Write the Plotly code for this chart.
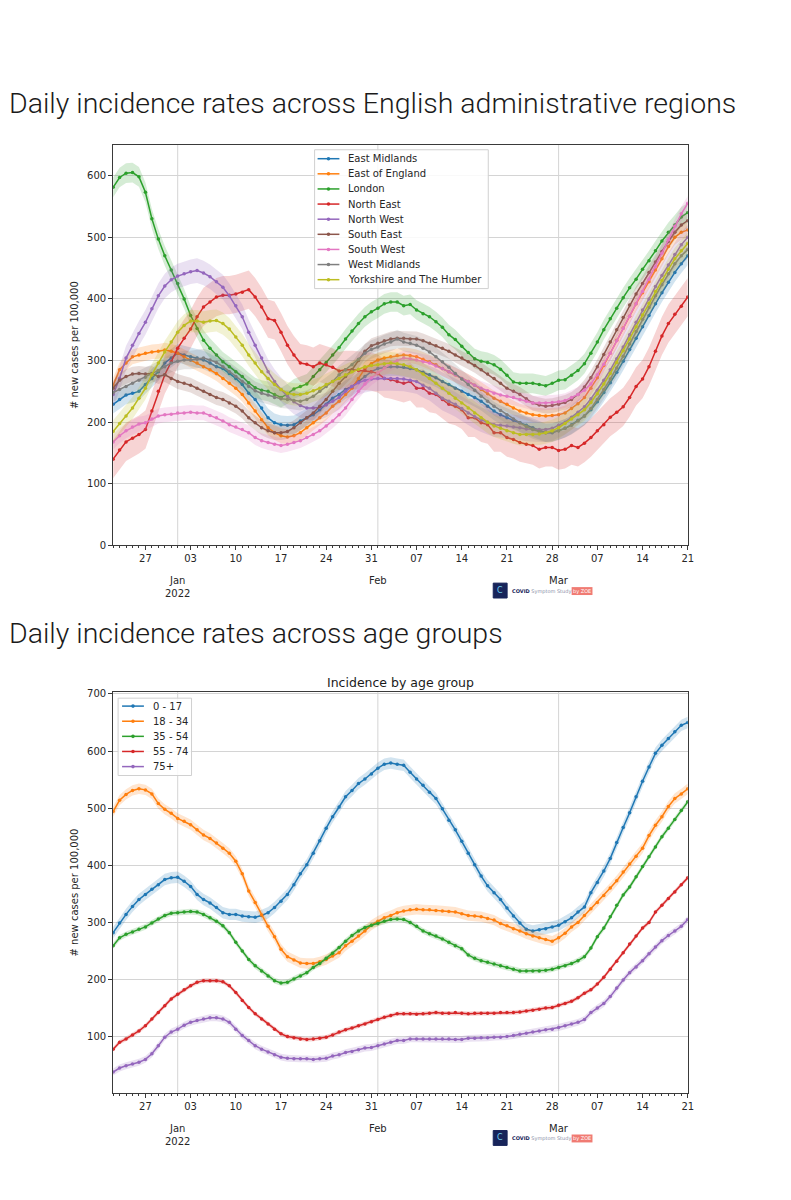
import pandas as pd
import plotly.graph_objects as go

W, H = 791, 1200

# ---------------- data ----------------
dates = pd.date_range("2021-12-22", "2022-03-21", freq="D")

week_ticks = ["2021-12-27", "2022-01-03", "2022-01-10", "2022-01-17", "2022-01-24",
              "2022-01-31", "2022-02-07", "2022-02-14", "2022-02-21", "2022-02-28",
              "2022-03-07", "2022-03-14", "2022-03-21"]
week_labels = ["27", "03", "10", "17", "24", "31", "07", "14", "21", "28", "07", "14", "21"]
month_starts = ["2022-01-01", "2022-02-01", "2022-03-01"]
month_labels = ["Jan<br>2022", "Feb", "Mar"]

region_names = ["East Midlands", "East of England", "London", "North East", "North West",
                "South East", "South West", "West Midlands", "Yorkshire and The Humber"]
region_colors = ["#1f77b4", "#ff7f0e", "#2ca02c", "#d62728", "#9467bd",
                 "#8c564b", "#e377c2", "#7f7f7f", "#bcbd22"]
region_band = [15, 12, 16, 31, 20, 12, 12, 15, 18]

east_midlands = [229, 237, 244, 247, 250, 261, 271, 282, 296, 304,
                 312, 309, 306, 304, 301, 296, 290, 287, 279, 271,
                 261, 247, 237, 223, 207, 199, 196, 195, 196, 202,
                 207, 212, 220, 229, 239, 245, 253, 258, 266, 274,
                 282, 287, 289, 290, 290, 289, 287, 285, 281, 277,
                 272, 266, 261, 255, 250, 245, 240, 234, 226, 218,
                 212, 207, 203, 199, 195, 191, 187, 183, 183, 186,
                 190, 196, 203, 210, 220, 233, 248, 264, 281, 299,
                 318, 336, 355, 373, 392, 410, 427, 443, 457, 470]
east_of_england = [260, 285, 296, 306, 309, 312, 314, 315, 317, 315,
                   312, 306, 301, 296, 290, 285, 279, 271, 263, 255,
                   245, 231, 218, 204, 191, 183, 178, 176, 178, 183,
                   191, 199, 207, 215, 226, 234, 245, 255, 271, 287,
                   295, 301, 304, 306, 308, 309, 308, 306, 302, 298,
                   293, 287, 282, 277, 271, 266, 260, 253, 246, 239,
                   234, 229, 223, 218, 215, 212, 211, 210, 211, 212,
                   215, 222, 230, 240, 255, 272, 292, 312, 333, 353,
                   372, 392, 410, 428, 447, 465, 485, 500, 508, 512]
london = [581, 597, 604, 605, 598, 573, 530, 497, 470, 447,
          425, 400, 373, 352, 333, 320, 309, 298, 290, 282,
          274, 264, 256, 252, 250, 245, 240, 246, 254, 258,
          262, 274, 285, 297, 309, 321, 335, 348, 360, 371,
          379, 385, 392, 395, 395, 389, 391, 382, 376, 371,
          363, 354, 342, 334, 323, 313, 303, 299, 297, 293,
          286, 276, 265, 263, 263, 263, 261, 259, 263, 268,
          269, 276, 284, 295, 312, 330, 350, 368, 385, 402,
          418, 432, 448, 462, 478, 494, 508, 520, 533, 540]
north_east = [140, 155, 168, 174, 180, 188, 218, 250, 277, 298,
              320, 336, 351, 371, 387, 395, 403, 406, 406, 408,
              411, 415, 403, 387, 368, 365, 346, 325, 309, 296,
              294, 290, 296, 293, 289, 283, 285, 285, 284, 284,
              282, 279, 271, 269, 266, 263, 266, 255, 255, 247,
              245, 237, 229, 226, 220, 207, 207, 199, 196, 183,
              183, 175, 172, 167, 164, 162, 156, 159, 159, 154,
              156, 162, 159, 166, 175, 186, 196, 208, 216, 225,
              240, 258, 270, 290, 315, 340, 360, 375, 388, 403]
north_west = [245, 271, 304, 325, 344, 362, 384, 405, 421, 431,
              437, 441, 444, 446, 442, 436, 428, 419, 405, 389,
              371, 346, 325, 304, 282, 266, 253, 242, 233, 227,
              223, 223, 224, 228, 234, 240, 250, 258, 264, 268,
              270, 271, 271, 271, 271, 270, 268, 266, 260, 255,
              247, 239, 234, 229, 222, 215, 209, 204, 200, 196,
              195, 194, 192, 191, 189, 188, 188, 188, 190, 195,
              200, 208, 216, 225, 238, 252, 268, 285, 303, 322,
              342, 362, 382, 400, 420, 438, 455, 472, 488, 500]
south_east = [255, 268, 274, 278, 279, 278, 279, 274, 277, 271,
              266, 263, 260, 255, 250, 245, 240, 237, 231, 226,
              218, 207, 199, 191, 186, 183, 183, 185, 191, 199,
              207, 215, 226, 237, 250, 263, 274, 285, 300, 315,
              324, 328, 332, 335, 336, 336, 335, 335, 332, 328,
              324, 320, 315, 309, 304, 298, 292, 285, 278, 271,
              263, 255, 250, 245, 238, 231, 228, 226, 227, 229,
              232, 237, 245, 257, 272, 290, 310, 330, 350, 370,
              390, 408, 425, 443, 460, 477, 493, 508, 520, 527]
south_west = [168, 178, 186, 192, 197, 199, 205, 210, 212, 213,
              215, 215, 216, 215, 215, 211, 207, 202, 196, 192,
              188, 183, 175, 170, 167, 164, 162, 164, 167, 170,
              175, 180, 186, 194, 202, 212, 223, 237, 250, 262,
              272, 280, 288, 295, 300, 304, 303, 301, 298, 296,
              291, 287, 282, 277, 271, 266, 260, 255, 251, 247,
              244, 242, 240, 237, 234, 231, 231, 231, 232, 233,
              235, 240, 245, 252, 262, 277, 294, 312, 332, 352,
              372, 392, 412, 432, 452, 474, 496, 518, 538, 555]
west_midlands = [248, 253, 258, 263, 268, 273, 278, 284, 290, 296,
                 299, 301, 301, 302, 304, 301, 297, 290, 282, 274,
                 266, 258, 251, 247, 244, 240, 238, 237, 235, 234,
                 237, 242, 250, 258, 266, 277, 285, 293, 302, 312,
                 318, 322, 327, 330, 335, 330, 328, 325, 320, 314,
                 306, 298, 289, 279, 270, 261, 252, 242, 234, 226,
                 219, 212, 205, 199, 193, 188, 185, 183, 184, 186,
                 190, 195, 202, 210, 222, 237, 253, 270, 288, 307,
                 327, 347, 367, 386, 405, 423, 441, 457, 470, 480]
yorkshire = [185, 198, 210, 223, 239, 255, 277, 296, 314, 330,
             346, 357, 364, 364, 362, 364, 365, 360, 351, 338,
             325, 309, 296, 282, 271, 261, 253, 247, 245, 245,
             247, 251, 255, 261, 266, 271, 277, 282, 286, 290,
             292, 293, 295, 296, 295, 293, 290, 285, 278, 271,
             263, 255, 247, 239, 231, 223, 215, 207, 200, 194,
             190, 186, 183, 180, 180, 180, 181, 183, 186, 191,
             198, 205, 212, 220, 232, 246, 262, 279, 297, 316,
             335, 355, 374, 393, 412, 430, 448, 465, 478, 490]

age_names = ["0 - 17", "18 - 34", "35 - 54", "55 - 74", "75+"]
age_colors = ["#1f77b4", "#ff7f0e", "#2ca02c", "#d62728", "#9467bd"]
age_band = [10, 9, 5, 4, 6]

age_0_17 = [282, 299, 314, 328, 340, 349, 358, 366, 375, 378,
            379, 372, 363, 349, 340, 334, 326, 317, 314, 314,
            311, 310, 309, 312, 317, 326, 337, 349, 366, 385,
            401, 421, 443, 465, 485, 502, 520, 531, 543, 551,
            560, 570, 577, 579, 577, 575, 563, 551, 540, 528,
            517, 499, 479, 462, 442, 421, 401, 381, 364, 352,
            340, 325, 311, 299, 288, 285, 287, 289, 292, 295,
            301, 308, 318, 327, 352, 370, 390, 412, 440, 466,
            492, 520, 547, 572, 596, 610, 622, 634, 645, 650]
age_18_34 = [494, 514, 524, 531, 534, 532, 525, 508, 498, 491,
             482, 477, 471, 462, 453, 447, 439, 430, 421, 407,
             385, 355, 335, 313, 293, 275, 253, 240, 234, 229,
             228, 228, 231, 235, 241, 247, 259, 267, 276, 285,
             295, 302, 308, 312, 317, 320, 322, 323, 322, 322,
             321, 320, 319, 318, 315, 312, 311, 310, 307, 304,
             298, 294, 289, 285, 280, 276, 273, 270, 267, 273,
             281, 292, 300, 312, 324, 335, 347, 360, 373, 388,
             402, 416, 430, 452, 470, 485, 503, 517, 525, 534]
age_35_54 = [259, 273, 279, 283, 288, 292, 299, 306, 312, 316,
             317, 318, 319, 318, 314, 308, 302, 294, 282, 265,
             250, 235, 224, 215, 206, 198, 194, 195, 201, 206,
             212, 221, 228, 237, 246, 256, 267, 277, 285, 291,
             295, 298, 302, 305, 306, 305, 300, 293, 285, 280,
             276, 271, 265, 259, 254, 243, 237, 233, 230, 227,
             224, 221, 218, 215, 215, 215, 215, 216, 218, 221,
             224, 228, 233, 240, 255, 275, 290, 310, 330, 348,
             362, 380, 398, 415, 432, 450, 465, 480, 496, 511]
age_55_74 = [78, 90, 96, 103, 110, 119, 131, 142, 154, 166,
             174, 182, 189, 195, 198, 198, 198, 196, 189, 177,
             163, 151, 140, 131, 122, 113, 105, 100, 98, 96,
             95, 96, 97, 99, 103, 108, 112, 115, 119, 122,
             126, 130, 134, 137, 140, 140, 140, 139, 140, 141,
             142, 141, 141, 142, 141, 140, 141, 141, 141, 141,
             142, 142, 142, 143, 145, 146, 148, 150, 151, 155,
             158, 162, 168, 176, 182, 192, 204, 218, 232, 247,
             262, 276, 290, 300, 318, 330, 342, 353, 366, 378]
age_75_plus = [38, 45, 49, 52, 55, 60, 70, 84, 99, 108,
               113, 120, 125, 128, 131, 133, 133, 131, 125, 113,
               102, 93, 84, 78, 73, 68, 64, 62, 61, 61,
               61, 60, 61, 62, 66, 68, 72, 74, 77, 80,
               81, 84, 87, 90, 93, 93, 96, 96, 96, 96,
               96, 96, 96, 95, 95, 97, 97, 98, 98, 99,
               99, 100, 102, 104, 106, 108, 110, 112, 113, 116,
               119, 122, 125, 130, 142, 150, 158, 170, 185, 199,
               212, 222, 233, 245, 257, 268, 277, 285, 293, 305]

region_series = [east_midlands, east_of_england, london, north_east, north_west,
                 south_east, south_west, west_midlands, yorkshire]
age_series = [age_0_17, age_18_34, age_35_54, age_55_74, age_75_plus]


# ---------------- helpers ----------------
def fx(px):
    return px / W


def fy(py):
    return 1 - py / H


def rgba(hex_color, a):
    h = hex_color.lstrip("#")
    r, g, b = int(h[0:2], 16), int(h[2:4], 16), int(h[4:6], 16)
    return f"rgba({r},{g},{b},{a})"


fig = go.Figure()


def add_series(values, half, color, name, xa, ya):
    upper = [v + half for v in values]
    lower = [v - half for v in values]
    fig.add_trace(go.Scatter(x=dates, y=upper, mode="lines", line=dict(width=0, color=color),
                             hoverinfo="skip", showlegend=False, xaxis=xa, yaxis=ya))
    fig.add_trace(go.Scatter(x=dates, y=lower, mode="lines", line=dict(width=0, color=color),
                             fill="tonexty", fillcolor=rgba(color, 0.2),
                             hoverinfo="skip", showlegend=False, xaxis=xa, yaxis=ya))
    fig.add_trace(go.Scatter(x=dates, y=values, mode="lines+markers", name=name,
                             line=dict(color=color, width=1.5),
                             marker=dict(size=3.5, color=color),
                             showlegend=False, xaxis=xa, yaxis=ya))


for vals, half, col, nm in zip(region_series, region_band, region_colors, region_names):
    add_series(vals, half, col, nm, "x", "y")
for vals, half, col, nm in zip(age_series, age_band, age_colors, age_names):
    add_series(vals, half, col, nm, "x2", "y2")

TICKFONT = dict(family="DejaVu Sans", size=10, color="#262626")
AXLINE = "#3a3a3a"
GRID = "#d4d4d4"

xcommon = dict(
    type="date", range=["2021-12-22", "2022-03-21"], domain=[fx(114), fx(693)],
    tickmode="array", tickvals=week_ticks, ticktext=week_labels,
    ticks="outside", ticklen=4, tickcolor=AXLINE, tickfont=TICKFONT,
    showgrid=False, showline=True, linecolor=AXLINE, linewidth=1, mirror=True,
    zeroline=False,
    minor=dict(dtick=86400000, ticks="outside", ticklen=2, tickcolor=AXLINE, showgrid=False),
)
ycommon = dict(
    ticks="outside", ticklen=4, tickcolor=AXLINE, tickfont=TICKFONT,
    showgrid=True, gridcolor=GRID, gridwidth=1, showline=True, linecolor=AXLINE,
    linewidth=1, mirror=True, zeroline=False,
    title=dict(text="# new cases per 100,000", font=dict(family="DejaVu Sans", size=10, color="#262626"),
               standoff=6),
)

fig.update_layout(
    width=W, height=H, margin=dict(l=0, r=0, t=0, b=0),
    paper_bgcolor="white", plot_bgcolor="white", showlegend=False,
    xaxis=dict(anchor="y", **xcommon),
    yaxis=dict(anchor="x", domain=[fy(546), fy(142)], range=[0, 650], dtick=100, **ycommon),
    xaxis2=dict(anchor="y2", **xcommon),
    yaxis2=dict(anchor="x2", domain=[fy(1098), fy(694)], range=[1.5, 703],
                tickvals=[100, 200, 300, 400, 500, 600, 700], **ycommon),
)

shapes = []
annotations = []

# month gridlines and labels
for xa, ya, ybase in [("x", "y", 546), ("x2", "y2", 1098)]:
    for m, lab in zip(month_starts, month_labels):
        shapes.append(dict(type="line", xref=xa, yref=f"{ya} domain", x0=m, x1=m, y0=0, y1=1,
                           line=dict(color=GRID, width=1), layer="below"))
        annotations.append(dict(xref=xa, yref="paper", x=m, y=fy(ybase + 28), text=lab,
                                showarrow=False, xanchor="center", yanchor="top",
                                font=TICKFONT, align="center"))

# page titles
TITLEFONT = dict(family="Roboto", size=28.5, color="#1a1a1a", weight=300)
annotations.append(dict(xref="paper", yref="paper", x=fx(7), y=fy(100),
                        text="Daily incidence rates across English administrative regions",
                        showarrow=False, xanchor="left", yanchor="middle", font=TITLEFONT))
annotations.append(dict(xref="paper", yref="paper", x=fx(7), y=fy(635),
                        text="Daily incidence rates across age groups",
                        showarrow=False, xanchor="left", yanchor="middle", font=TITLEFONT))
annotations.append(dict(xref="paper", yref="paper", x=fx(404), y=fy(684), text="Incidence by age group",
                        showarrow=False, xanchor="center", yanchor="middle",
                        font=dict(family="DejaVu Sans", size=12.5, color="#1a1a1a")))


# manual legends
def legend(names, colors, box, line_x, text_x, y0, step):
    x0, yt, x1, yb = box
    shapes.append(dict(type="rect", xref="paper", yref="paper", x0=fx(x0), x1=fx(x1), y0=fy(yb), y1=fy(yt),
                       line=dict(color="#d0d0d0", width=1), fillcolor="rgba(255,255,255,0.85)", layer="above"))
    for i, (nm, col) in enumerate(zip(names, colors)):
        yy = y0 + i * step
        shapes.append(dict(type="line", xref="paper", yref="paper", x0=fx(line_x[0]), x1=fx(line_x[1]),
                           y0=fy(yy), y1=fy(yy), line=dict(color=col, width=1.5), layer="above"))
        cx = (line_x[0] + line_x[1]) / 2
        shapes.append(dict(type="circle", xref="paper", yref="paper", x0=fx(cx - 1.8), x1=fx(cx + 1.8),
                           y0=fy(yy + 1.8), y1=fy(yy - 1.8), line=dict(color=col, width=0),
                           fillcolor=col, layer="above"))
        annotations.append(dict(xref="paper", yref="paper", x=fx(text_x), y=fy(yy), text=nm,
                                showarrow=False, xanchor="left", yanchor="middle",
                                font=dict(family="DejaVu Sans", size=10, color="#262626")))


legend(region_names, region_colors, (317, 147, 492, 287), (320, 342), 349, 156, 15.25)
legend(age_names, age_colors, (119, 700, 193, 778), (123, 145), 152, 708, 15.25)


# logos
def logo(ybase):
    shapes.append(dict(type="rect", xref="paper", yref="paper", x0=fx(497), x1=fx(511),
                       y0=fy(ybase + 8), y1=fy(ybase - 7), fillcolor="#17245a",
                       line=dict(color="#17245a", width=1)))
    annotations.append(dict(xref="paper", yref="paper", x=fx(504), y=fy(ybase), text="C",
                            showarrow=False, xanchor="center", yanchor="middle",
                            font=dict(family="DejaVu Sans", size=8, color="#6fd0f0")))
    annotations.append(dict(xref="paper", yref="paper", x=fx(514), y=fy(ybase + 1),
                            text="<b>COVID</b> <span style='color:#8a8fa8'>Symptom Study</span>",
                            showarrow=False, xanchor="left", yanchor="middle",
                            font=dict(family="DejaVu Sans", size=5, color="#17245a")))
    shapes.append(dict(type="rect", xref="paper", yref="paper", x0=fx(576), x1=fx(597),
                       y0=fy(ybase + 5), y1=fy(ybase - 3), fillcolor="#f07b73",
                       line=dict(color="#f07b73", width=0)))
    annotations.append(dict(xref="paper", yref="paper", x=fx(586.5), y=fy(ybase + 1), text="by ZOE",
                            showarrow=False, xanchor="center", yanchor="middle",
                            font=dict(family="DejaVu Sans", size=5, color="white")))


logo(591)
logo(1143)

fig.update_layout(shapes=shapes, annotations=annotations)

fig.write_html("out.html", config={"displayModeBar": False},
               post_script="document.body.style.margin='0';document.body.style.overflow='hidden';")
